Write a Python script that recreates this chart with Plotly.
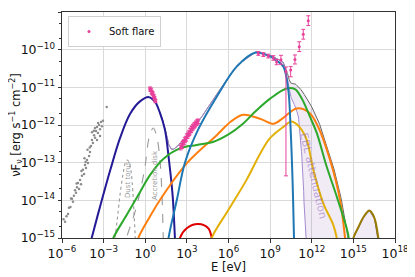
import numpy as np
import plotly.graph_objects as go

# ---------------- axis ticks ----------------
x_tick_exp = [-6, -3, 0, 3, 6, 9, 12, 15, 18]
x_tick_text = ["10<sup>−6</sup>", "10<sup>−3</sup>", "10<sup>0</sup>", "10<sup>3</sup>", "10<sup>6</sup>",
               "10<sup>9</sup>", "10<sup>12</sup>", "10<sup>15</sup>", "10<sup>18</sup>"]
y_tick_exp = [-15, -14, -13, -12, -11, -10, -9]
y_tick_text = ["10<sup>−15</sup>", "10<sup>−14</sup>", "10<sup>−13</sup>", "10<sup>−12</sup>",
               "10<sup>−11</sup>", "10<sup>−10</sup>", "10<sup>−9</sup>"]

# ---------------- model components (log10 E [eV], log10 nuFnu) ----------------
navy_logE = [-4.1, -3.86, -3.26, -2.5, -1.82, -1.1, -0.4, 0.27, 0.7, 1.06, 1.42, 1.73, 1.98, 2.14, 2.2]
navy_logF = [-15.35, -15.0, -14.17, -13.17, -12.35, -11.71, -11.38, -11.26, -11.38, -11.68, -12.13, -13.0, -13.9, -15.0, -15.4]

blue_logE = [1.55, 1.68, 2.27, 2.86, 3.8, 5.15, 6.59, 7.91, 9.0, 9.5, 9.95, 10.31, 10.48, 10.62, 10.72, 10.76]
blue_logF = [-15.5, -15.0, -14.0, -13.0, -12.13, -11.25, -10.45, -10.08, -10.18, -10.3, -10.45, -11.07, -12.13, -13.5, -15.0, -15.5]

green_logE = [-2.5, -2.3, -1.34, -0.5, 0.34, 1.3, 2.5, 3.71, 4.88, 6.0, 7.0, 7.91, 9.0, 10.19, 10.79, 11.27, 11.87, 12.36, 13.08, 13.8, 14.63, 14.7]
green_logF = [-15.25, -15.0, -14.39, -13.86, -13.33, -12.9, -12.62, -12.53, -12.45, -12.25, -11.98, -11.65, -11.3, -11.03, -11.05, -11.29, -11.78, -12.21, -13.11, -13.9, -14.92, -15.3]

orange_logE = [-0.7, -0.5, 0.34, 1.06, 2.99, 5.15, 6.2, 7.07, 8.0, 8.51, 9.23, 9.95, 10.91, 11.8, 12.45, 13.32, 14.04, 14.4, 14.5]
orange_logF = [-15.3, -15.0, -14.43, -13.99, -13.02, -12.27, -11.9, -11.73, -11.8, -11.87, -11.97, -11.81, -11.56, -11.67, -12.04, -12.93, -13.99, -15.0, -15.4]

gold_logE = [4.6, 4.79, 6.0, 7.31, 8.3, 8.99, 9.95, 10.55, 11.15, 11.64, 12.11, 12.83, 13.55, 13.8, 13.9]
gold_logF = [-15.4, -15.0, -14.25, -13.45, -12.75, -12.35, -12.05, -11.91, -12.07, -12.4, -13.19, -14.08, -14.65, -15.0, -15.3]

bump_logE = [14.9, 15.0, 15.35, 15.72, 16.15, 16.5, 16.8, 16.9]
bump_logF = [-15.4, -15.0, -14.72, -14.45, -14.27, -14.45, -15.0, -15.4]

red_logE = [2.4, 2.5, 2.99, 3.82, 4.54, 4.79, 4.88]
red_logF = [-15.3, -15.0, -14.74, -14.63, -14.74, -15.0, -15.3]

torus_logE = [-2.3, -2.18, -2.0, -1.8, -1.6, -1.45, -1.3, -1.15, -1.0, -0.9, -0.8, -0.72, -0.68]
torus_logF = [-15.3, -15.0, -14.45, -13.8, -13.3, -13.02, -12.93, -13.0, -13.3, -13.75, -14.4, -15.0, -15.4]

disk_logE = [-1.45, -1.34, -0.9, -0.5, -0.02, 0.3, 0.58, 0.85, 1.06, 1.2, 1.3, 1.35]
disk_logF = [-15.4, -15.0, -14.5, -13.99, -13.11, -12.3, -12.08, -12.35, -12.93, -13.8, -15.0, -15.5]

# EBL attenuation (log10 of the absorption factor)
ebl_logE = [9.9, 10.19, 10.55, 11.03, 11.15, 11.39, 11.51, 11.6, 12.0, 18.0]
ebl_logA = [0.0, -0.07, -0.41, -0.77, -1.12, -2.22, -3.75, -5.0, -8.0, -8.0]

# ---------------- archival (grey) points ----------------
arch_logE = [-5.89, -5.78, -5.68, -5.57, -5.50, -5.39, -5.28, -5.21, -5.14, -5.06, -4.99, -4.92, -4.85, -4.77,
             -4.70, -4.63, -4.56, -4.49, -4.41, -4.38, -4.34, -4.27, -4.20, -4.16, -4.13, -4.05, -3.98, -3.91,
             -3.84, -3.77, -3.69, -3.62, -3.55, -3.48, -3.41, -3.33, -3.26, -3.19, -3.12, -3.05, -3.62, -3.84,
             -3.48, -3.26, -2.78, -5.35, -4.95, -4.60, -4.30, -4.00, -3.70, -3.40]
arch_logF = [-14.50, -14.57, -14.42, -14.36, -14.20, -14.18, -13.96, -14.04, -13.88, -13.73, -13.80, -13.65, -13.54, -13.70,
             -13.46, -13.57, -13.35, -13.19, -13.30, -12.88, -13.06, -13.14, -12.93, -12.66, -13.01, -12.82, -12.72, -12.56,
             -12.40, -12.48, -12.27, -12.34, -12.16, -12.05, -12.21, -12.00, -12.11, -11.92, -12.03, -11.89, -12.08, -12.19,
             -12.40, -12.29, -11.52, -13.95, -13.55, -13.22, -12.98, -12.60, -12.15, -11.95]

# ---------------- soft flare data ----------------
flare_logE = [0.34, 0.38, 0.42, 0.46, 0.50, 0.54, 0.58, 0.62, 0.66, 0.70, 0.74,
              2.55, 2.60, 2.65, 2.70, 2.75, 2.80, 2.85, 2.90, 2.95, 3.00, 3.05, 3.10, 3.15, 3.20,
              3.25, 3.30, 3.35, 3.40, 3.45, 3.50, 3.55, 3.60, 3.65, 3.70, 3.75, 3.80,
              8.15, 8.51, 8.87, 9.23, 9.47, 9.78, 10.14,
              10.48, 10.79, 11.10, 11.39, 11.75]
flare_logF = [-11.03, -11.07, -11.06, -11.12, -11.15, -11.17, -11.22, -11.24, -11.28, -11.33, -11.37,
              -12.60, -12.55, -12.56, -12.50, -12.47, -12.45, -12.40, -12.38, -12.36, -12.30, -12.29, -12.25, -12.22, -12.20,
              -12.15, -12.14, -12.10, -12.08, -12.05, -12.03, -12.00, -11.99, -11.96, -11.95, -11.92, -11.90,
              -10.10, -10.13, -10.17, -10.22, -10.33, -10.27, -10.58,
              -10.54, -10.26, -9.92, -9.59, -9.23]
flare_err_up = [0.04] * 11 + [0.06] * 26 + [0.05, 0.05, 0.05, 0.06, 0.07, 0.12, 0.12] + [0.09, 0.12, 0.13, 0.13, 0.13]
flare_err_dn = [0.04] * 11 + [0.06] * 26 + [0.05, 0.05, 0.05, 0.06, 0.07, 0.12, 2.77] + [0.18, 0.12, 0.13, 0.13, 0.13]

# ---------------- derived totals ----------------
grid = np.arange(-4.5, 17.5, 0.02)
comps = [(navy_logE, navy_logF), (blue_logE, blue_logF), (green_logE, green_logF),
         (orange_logE, orange_logF), (gold_logE, gold_logF), (bump_logE, bump_logF), (red_logE, red_logF)]
total = np.zeros_like(grid)
for kE, kF in comps:
    total += 10 ** np.interp(grid, kE, kF, left=-40, right=-40)
atten = total * 10 ** np.interp(grid, ebl_logE, ebl_logA, left=0.0, right=-8.0)
mask = grid > 1.0
gE = 10 ** grid[mask]
tot = np.clip(total[mask], 1e-25, None)
att = np.clip(atten[mask], 1e-25, None)

fig = go.Figure()

# EBL shaded region
fig.add_trace(go.Scatter(x=gE, y=att, mode="lines", line=dict(width=0), showlegend=False, hoverinfo="skip"))
fig.add_trace(go.Scatter(x=gE, y=tot, mode="lines", line=dict(width=0), fill="tonexty",
                         fillcolor="rgba(148,103,189,0.13)", showlegend=False, hoverinfo="skip"))
# total and attenuated total
fig.add_trace(go.Scatter(x=gE, y=tot, mode="lines", line=dict(color="#666666", width=1), showlegend=False))
fig.add_trace(go.Scatter(x=gE, y=att, mode="lines", line=dict(color="#a58cd0", width=1), showlegend=False))


def add_curve(kE, kF, color, width=2, dash=None):
    fig.add_trace(go.Scatter(x=10 ** np.array(kE), y=10 ** np.array(kF), mode="lines",
                             line=dict(color=color, width=width, dash=dash, shape="spline", smoothing=1.0),
                             showlegend=False))


add_curve(torus_logE, torus_logF, "#999999", 1.1, "dot")
add_curve(disk_logE, disk_logF, "#999999", 1.1, "dash")
add_curve(navy_logE, navy_logF, "#241a96")
add_curve(red_logE, red_logF, "#e00000")
add_curve(orange_logE, orange_logF, "#ff7f0e")
add_curve(gold_logE, gold_logF, "#e2b007")
add_curve(bump_logE, bump_logF, "#9a7a00")
add_curve(green_logE, green_logF, "#2ca82c")
add_curve(blue_logE, blue_logF, "#1f77b4")

# archival points
fig.add_trace(go.Scatter(x=10 ** np.array(arch_logE), y=10 ** np.array(arch_logF), mode="markers",
                         marker=dict(color="#8c8c8c", size=2.5, symbol="circle"), showlegend=False))

# soft flare points
fl = np.array(flare_logF)
fy = 10 ** fl
up = 10 ** (fl + np.array(flare_err_up)) - fy
dn = fy - 10 ** (fl - np.array(flare_err_dn))
fig.add_trace(go.Scatter(x=10 ** np.array(flare_logE), y=fy, mode="markers", name="Soft flare",
                         marker=dict(color="#e8409a", size=3),
                         error_y=dict(type="data", symmetric=False, array=up, arrayminus=dn,
                                      color="#e8409a", thickness=1, width=2)))

# annotations
fig.add_annotation(x=-1.24, y=-13.46, xref="x", yref="y", text="Dust torus", showarrow=False,
                   textangle=-90, font=dict(size=7, color="#999999"))
fig.add_annotation(x=0.70, y=-13.33, xref="x", yref="y", text="Accretion disk", showarrow=False,
                   textangle=-90, font=dict(size=7, color="#999999"))
fig.add_annotation(x=12.09, y=-13.35, xref="x", yref="y", text="EBL attenuation", showarrow=False,
                   textangle=77, font=dict(size=11, color="rgba(148,103,189,0.55)"))

axis_common = dict(type="log", showline=True, linecolor="#333333", linewidth=1, mirror=True,
                   ticks="outside", ticklen=3.5, tickcolor="#333333", showgrid=True,
                   gridcolor="#dadada", gridwidth=1, zeroline=False, tickmode="array",
                   tickfont=dict(size=12.5, color="#111111"), automargin=False)
fig.update_xaxes(range=[-6, 18], tickvals=[10.0 ** e for e in x_tick_exp], ticktext=x_tick_text,
                 title=dict(text="E [eV]", font=dict(size=11.5), standoff=2),
                 **axis_common)
fig.update_yaxes(range=[-15, -9], tickvals=[10.0 ** e for e in y_tick_exp], ticktext=y_tick_text,
                 title=dict(text="νF<sub>ν</sub> [erg s<sup>−1</sup> cm<sup>−2</sup>]", font=dict(size=11.5), standoff=3),
                 minor=dict(ticks="outside", ticklen=2, tickcolor="#333333", showgrid=False),
                 **axis_common)

# the page body adds an 8 px offset, so the figure is 8 px smaller than the window
fig.update_layout(width=407, height=269, margin=dict(l=54, r=20, t=4, b=39, autoexpand=False),
                  paper_bgcolor="white", plot_bgcolor="white",
                  font=dict(family="DejaVu Sans", size=11, color="#111111"),
                  legend=dict(x=0.018, y=0.982, xanchor="left", yanchor="top", bgcolor="white",
                              bordercolor="#d0d0d0", borderwidth=1, font=dict(size=10),
                              itemwidth=30, tracegroupgap=0),
                  showlegend=True)

fig.write_html("out.html")
